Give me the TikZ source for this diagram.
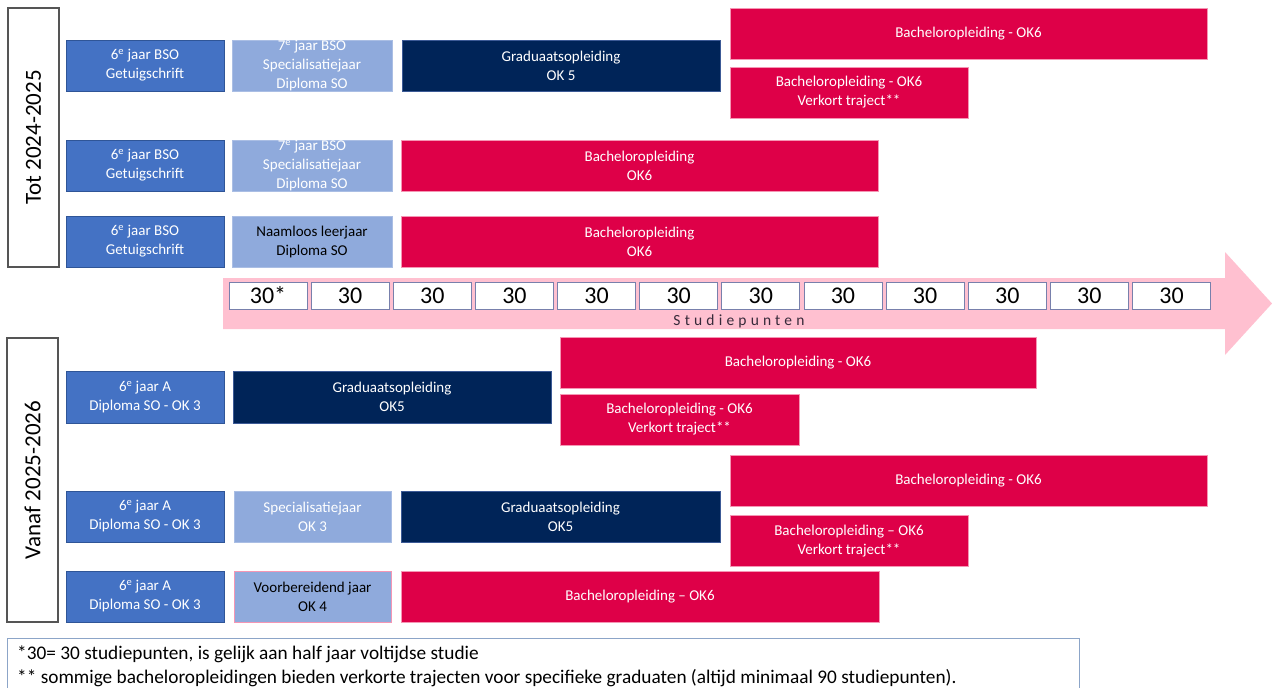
\documentclass[tikz,border=0pt]{standalone}
\usepackage{fontspec}
\setmainfont{Carlito}

\definecolor{midblue}{RGB}{68,114,196}
\definecolor{midblueline}{RGB}{47,85,151}
\definecolor{lightblue}{RGB}{143,170,220}
\definecolor{lightblueline}{RGB}{170,190,228}
\definecolor{navy}{RGB}{0,36,88}
\definecolor{navyline}{RGB}{60,90,150}
\definecolor{crimson}{RGB}{222,0,72}
\definecolor{crimsonline}{RGB}{245,150,180}
\definecolor{arrowpink}{RGB}{255,192,208}
\definecolor{cellline}{RGB}{120,128,172}
\definecolor{titleline}{RGB}{85,85,85}
\definecolor{noteline}{RGB}{140,165,200}
\definecolor{axislabel}{RGB}{55,42,58}

\begin{document}
\begin{tikzpicture}[x=1pt,y=-1pt,
  every node/.style={inner sep=0pt,align=center,font=\fontsize{15}{19}\selectfont},
  course/.style={draw,line width=0.8pt,minimum height=51pt,text=white},
  sixth/.style={course,fill=midblue,draw=midblueline},
  extra/.style={course,fill=lightblue,draw=lightblueline},
  grad/.style={course,fill=navy,draw=navyline},
  bach/.style={course,fill=crimson,draw=crimsonline},
  period/.style={draw=titleline,line width=1.2pt,fill=white,rotate=90,
    minimum height=51pt,font=\fontsize{23}{27}\selectfont},
  credit/.style={draw=cellline,line width=0.8pt,fill=white,minimum width=78pt,
    minimum height=27pt,font=\fontsize{24}{24}\selectfont},
  notebox/.style={draw=noteline,line width=1pt,fill=white},
  noteline/.style={anchor=base west,align=left,font=\fontsize{19.3}{24}\selectfont}]
  \useasboundingbox (0,0) rectangle (1272,688);

  % tot 2024-2025
  \node[period,minimum width=259pt] (tot) at (33.5,137.5) {Tot 2024-2025};
  \node[sixth,minimum width=158pt] (bso1) at (145,65.5) {6\textsuperscript{e} jaar BSO\\Getuigschrift};
  \node[extra,minimum width=160pt] (spec1) at (312,65.5) {7\textsuperscript{e} jaar BSO\\Specialisatiejaar\\Diploma SO};
  \node[grad,minimum width=318pt] (grad1) at (561,65.5) {Graduaatsopleiding\\OK 5};
  \node[bach,minimum width=477pt] (bach1) at (968.5,33.5) {Bacheloropleiding - OK6};
  \node[bach,minimum width=238pt] (verk1) at (849,92.5) {Bacheloropleiding - OK6\\Verkort traject**};

  \node[sixth,minimum width=158pt] (bso2) at (145,165.5) {6\textsuperscript{e} jaar BSO\\Getuigschrift};
  \node[extra,minimum width=160pt] (spec2) at (312,165.5) {7\textsuperscript{e} jaar BSO\\Specialisatiejaar\\Diploma SO};
  \node[bach,minimum width=477pt] (bach2) at (639.5,165.5) {Bacheloropleiding\\OK6};

  \node[sixth,minimum width=158pt] (bso3) at (145,241.5) {6\textsuperscript{e} jaar BSO\\Getuigschrift};
  \node[extra,minimum width=160pt,text=black] (naam3) at (312,241.5) {Naamloos leerjaar\\Diploma SO};
  \node[bach,minimum width=477pt] (bach3) at (639.5,241.5) {Bacheloropleiding\\OK6};

  % studiepunten
  \fill[arrowpink] (223,278) -- (1225,278) -- (1225,252) -- (1272,303.5)
    -- (1225,355) -- (1225,329) -- (223,329) -- cycle;
  \foreach \i in {1,...,12} {
    \pgfmathsetmacro\cx{268+82.14*(\i-1)}
    \ifnum\i=1
      \node[credit] (sp\i) at (\cx,295.5) {30*};
    \else
      \node[credit] (sp\i) at (\cx,295.5) {30};
    \fi
  }
  \node[anchor=base,text=axislabel,font=\fontsize{15.5}{16}\selectfont\addfontfeature{LetterSpace=27}]
    (axis) at (739,325) {Studiepunten};

  % vanaf 2025-2026
  \node[period,minimum width=284pt] (vanaf) at (32.5,480) {Vanaf 2025-2026};
  \node[sixth,minimum width=158pt,minimum height=52pt] (a4) at (145,397) {6\textsuperscript{e} jaar A\\Diploma SO - OK 3};
  \node[grad,minimum width=318pt,minimum height=52pt] (grad4) at (392,397) {Graduaatsopleiding\\OK5};
  \node[bach,minimum width=476pt] (bach4) at (798,363) {Bacheloropleiding - OK6};
  \node[bach,minimum width=239pt] (verk4) at (679.5,419.5) {Bacheloropleiding - OK6\\Verkort traject**};

  \node[sixth,minimum width=158pt] (a5) at (145,516.5) {6\textsuperscript{e} jaar A\\Diploma SO - OK 3};
  \node[extra,minimum width=157pt] (spec5) at (312.5,516.5) {Specialisatiejaar\\OK 3};
  \node[grad,minimum width=319pt] (grad5) at (560.5,516.5) {Graduaatsopleiding\\OK5};
  \node[bach,minimum width=477pt] (bach5) at (968.5,480.5) {Bacheloropleiding - OK6};
  \node[bach,minimum width=238pt] (verk5) at (849,541) {Bacheloropleiding -- OK6\\Verkort traject**};

  \node[sixth,minimum width=158pt] (a6) at (145,596.5) {6\textsuperscript{e} jaar A\\Diploma SO - OK 3};
  \node[extra,minimum width=157pt,text=black,draw=crimsonline] (voor6) at (312.5,596.5) {Voorbereidend jaar\\OK 4};
  \node[bach,minimum width=478pt] (bach6) at (640,596.5) {Bacheloropleiding -- OK6};

  % voetnoot
  \node[notebox,anchor=north west,minimum width=1072pt,minimum height=70pt] (note) at (7,638) {};
  \node[noteline] (note1) at (17,659) {*30= 30 studiepunten, is gelijk aan half jaar voltijdse studie};
  \node[noteline] (note2) at (17,683) {** sommige bacheloropleidingen bieden verkorte trajecten voor specifieke graduaten (altijd minimaal 90 studiepunten).};
\end{tikzpicture}
\end{document}
